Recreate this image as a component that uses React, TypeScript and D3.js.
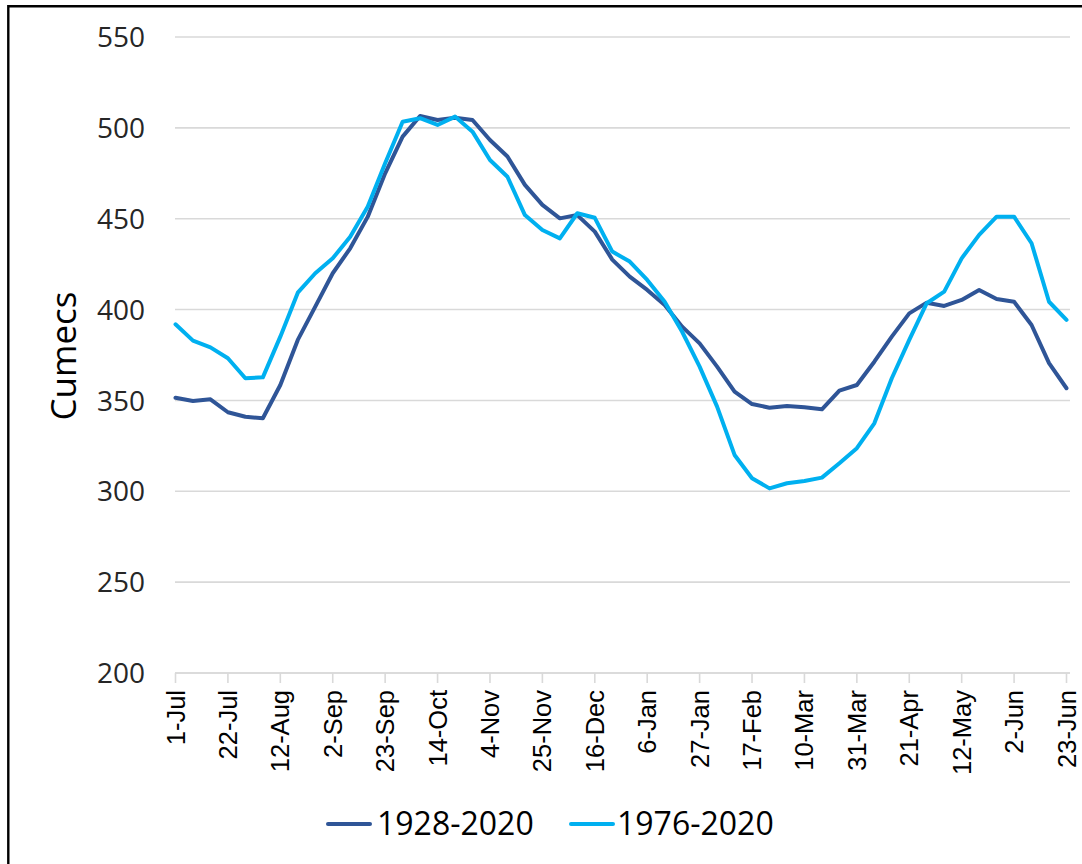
import React from "react";
import * as d3 from "d3";

const categories = [
  "1-Jul", "8-Jul", "15-Jul", "22-Jul", "29-Jul", "5-Aug", "12-Aug", "19-Aug", "26-Aug",
  "2-Sep", "9-Sep", "16-Sep", "23-Sep", "30-Sep", "7-Oct", "14-Oct", "21-Oct", "28-Oct",
  "4-Nov", "11-Nov", "18-Nov", "25-Nov", "2-Dec", "9-Dec", "16-Dec", "23-Dec", "30-Dec",
  "6-Jan", "13-Jan", "20-Jan", "27-Jan", "3-Feb", "10-Feb", "17-Feb", "24-Feb", "3-Mar",
  "10-Mar", "17-Mar", "24-Mar", "31-Mar", "7-Apr", "14-Apr", "21-Apr", "28-Apr", "5-May",
  "12-May", "19-May", "26-May", "2-Jun", "9-Jun", "16-Jun", "23-Jun",
];

const tickLabels = [
  "1-Jul", "22-Jul", "12-Aug", "2-Sep", "23-Sep", "14-Oct", "4-Nov", "25-Nov", "16-Dec",
  "6-Jan", "27-Jan", "17-Feb", "10-Mar", "31-Mar", "21-Apr", "12-May", "2-Jun", "23-Jun",
];

const series1928 = [
  351.5, 349.7, 350.6, 343.5, 341, 340.2, 358.5, 383.3, 401.6, 420,
  433.7, 451, 475, 495.2, 506.5, 504.3, 505.6, 504.3, 493.3, 484.2,
  468.6, 457.6, 450.2, 452, 442.9, 427.5, 418.1, 410.8, 402.5, 390.6,
  381.4, 368.6, 354.8, 348, 346, 346.9, 346.2, 345.1, 355.4, 358.5,
  371.3, 385.1, 397.9, 403.8, 402, 405.3, 410.8, 405.8, 404.3, 391.5,
  370.5, 356.7,
];

const series1976 = [
  391.9, 382.9, 379.2, 373.2, 362.2, 362.7, 385.1, 409.3, 420, 428.2,
  440.1, 456.6, 480.5, 503.4, 505.3, 501.6, 506.2, 497.9, 482.3, 473.1,
  452, 443.8, 439.2, 453, 450.5, 431.9, 426.4, 416.3, 404.3, 387.8,
  368.6, 346.6, 320, 307.2, 301.6, 304.4, 305.7, 307.5, 315.4, 323.7,
  337.4, 362.2, 383.3, 403.5, 409.9, 428.2, 441.1, 451.1, 451.1, 436.5,
  404.3, 394.3,
];

const yTicks = [200, 250, 300, 350, 400, 450, 500, 550];

const seriesList = [
  { name: "1928-2020", values: series1928, color: "#2F5597" },
  { name: "1976-2020", values: series1976, color: "#00B0F0" },
];

const W = 1082;
const H = 864;
const FONT = "'Open Sans', 'Liberation Sans', sans-serif";

export default function App() {
  const x = d3.scalePoint<string>().domain(categories).range([175.5, 1066.5]);
  const y = d3.scaleLinear().domain([200, 550]).range([673, 37]);
  const line = d3
    .line<number>()
    .x((_, i) => x(categories[i]) as number)
    .y((d) => y(d));

  const legendItems = [
    { lx: 328, tx: 377 },
    { lx: 571, tx: 617 },
  ];

  return (
    <svg
      width={W}
      height={H}
      style={{ position: "absolute", left: 0, top: 0, background: "#fff" }}
    >
      <rect x={0} y={0} width={W} height={H} fill="#fff" />
      <path d={`M8.3,${H + 5} V6.3 H${W + 5}`} fill="none" stroke="#000" strokeWidth={2.4} />

      {/* gridlines */}
      {yTicks.map((t) => (
        <line
          key={t}
          x1={175}
          x2={1070}
          y1={y(t)}
          y2={y(t)}
          stroke="#D9D9D9"
          strokeWidth={1.6}
        />
      ))}

      {/* y tick labels */}
      {yTicks.map((t) => (
        <text
          key={"yl" + t}
          x={145}
          y={y(t)}
          dy="0.36em"
          textAnchor="end"
          fontFamily={FONT}
          fontSize={28}
          fill="#262626"
        >
          {t}
        </text>
      ))}

      {/* y title */}
      <text
        transform={`translate(76,356) rotate(-90)`}
        textAnchor="middle"
        fontFamily={FONT}
        fontSize={35}
        fill="#000"
      >
        Cumecs
      </text>

      {/* x axis */}
      <line x1={175} x2={1070} y1={y(200)} y2={y(200)} stroke="#D9D9D9" strokeWidth={1.6} />
      {tickLabels.map((c) => {
        const px = x(c) as number;
        return (
          <g key={"xt" + c}>
            <line x1={px} x2={px} y1={y(200)} y2={y(200) + 10} stroke="#D9D9D9" strokeWidth={1.6} />
            <text
              transform={`translate(${px + 9},690) rotate(-90)`}
              textAnchor="end"
              fontFamily="'Liberation Sans', Arial, sans-serif"
              fontSize={25.5}
              fill="#000"
            >
              {c}
            </text>
          </g>
        );
      })}

      {/* lines */}
      {seriesList.map((s) => (
        <path
          key={s.name}
          d={line(s.values) as string}
          fill="none"
          stroke={s.color}
          strokeWidth={4}
          strokeLinejoin="round"
          strokeLinecap="round"
        />
      ))}

      {/* legend */}
      {seriesList.map((s, i) => (
        <g key={"lg" + s.name}>
          <line
            x1={legendItems[i].lx}
            x2={legendItems[i].lx + 42}
            y1={824}
            y2={824}
            stroke={s.color}
            strokeWidth={4}
            strokeLinecap="round"
          />
          <text
            x={legendItems[i].tx}
            y={834.5}
            fontFamily={FONT}
            fontSize={32}
            fill="#000"
          >
            {s.name}
          </text>
        </g>
      ))}
    </svg>
  );
}
